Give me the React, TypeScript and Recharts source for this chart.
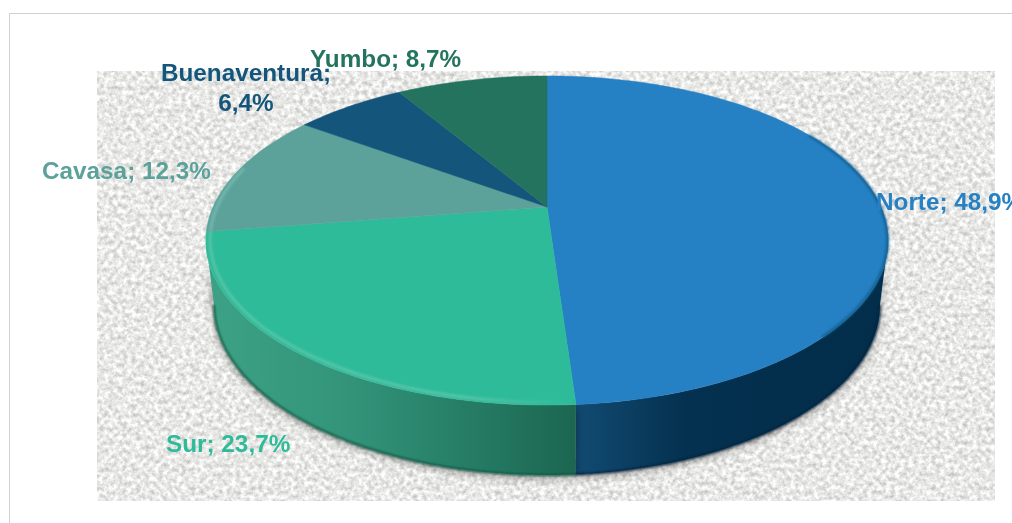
import React from 'react';
import { PieChart, Pie } from 'recharts';

// Share per zone, in percent
const zones = ['Norte', 'Sur', 'Cavasa', 'Buenaventura', 'Yumbo'];
const shares = [48.9, 23.7, 12.3, 6.4, 8.7];
const shareLabels = ['48,9%', '23,7%', '12,3%', '6,4%', '8,7%'];

const topColors = ['#2580C4', '#2EBB99', '#5CA29B', '#14557B', '#24735E'];
const rimColors = ['#17608F', 'url(#rimSur)', '#73B6AE', 'none', 'none'];
const wallGradients = ['wallNorte', 'wallSur', 'none', 'none', 'none'];

const pieData = zones.map((name, i) => ({ name, value: shares[i], label: shareLabels[i] }));

// Where Excel placed each data label
const labelSpots: Record<string, { x: number; y: number; anchor: string }> = {
  Norte: { x: 876, y: 210, anchor: 'start' },
  Sur: { x: 166, y: 452, anchor: 'start' },
  Cavasa: { x: 42, y: 179, anchor: 'start' },
  Buenaventura: { x: 246, y: 81, anchor: 'middle' },
  Yumbo: { x: 310, y: 67, anchor: 'start' },
};

// Perspective of the tilted disc
const TILT = 0.2036;
const SQUASH = 0.4723;
const ELLIPSE_Y = 240.5;
const BASE_Y = 305;
const BASE_SCALE_X = 0.976;
const BASE_SCALE_Y = 1.033;
const FRONT_FROM = 101.75;
const FRONT_TO = 258.25;

// clockwise degrees from 12 o'clock -> screen point
function project(cx: number, cy: number, r: number, deg: number, f = 1) {
  const rad = (deg * Math.PI) / 180;
  const u = Math.sin(rad) * f;
  const v = Math.cos(rad) * f;
  const d = 1 + TILT * v;
  return { x: cx + (r * u) / d, y: cy - (r * SQUASH * v) / d };
}

function toBase(p: { x: number; y: number }, cx: number) {
  return {
    x: cx + (p.x - cx) * BASE_SCALE_X,
    y: BASE_Y + (p.y - ELLIPSE_Y) * BASE_SCALE_Y,
  };
}

function sweep(from: number, to: number) {
  const out: number[] = [];
  const n = Math.max(2, Math.ceil((to - from) / 1.5));
  for (let i = 0; i <= n; i++) out.push(from + ((to - from) * i) / n);
  return out;
}

const toPath = (pts: { x: number; y: number }[]) =>
  pts.map((p, i) => `${i ? 'L' : 'M'}${p.x.toFixed(2)} ${p.y.toFixed(2)}`).join(' ');

function TopSlice(props: any) {
  const { cx, cy, outerRadius, startAngle, endAngle, index } = props;
  const from = 90 - startAngle;
  const to = 90 - endAngle;
  const arc = sweep(from, to).map((a) => project(cx, cy, outerRadius, a));
  // the bevel only shows on the near side, Norte only at its right end
  const rimFrom = Math.max(from, 60);
  const rimTo = Math.min(to, index === 0 ? 135 : 285);
  const rim = rimTo > rimFrom && rimColors[index] !== 'none'
    ? sweep(rimFrom, rimTo).map((a) => project(cx, cy, outerRadius, a, index === 0 ? 0.998 : 0.988))
    : null;
  return (
    <g>
      <path d={`M${cx} ${cy} ${toPath(arc).replace('M', 'L')} Z`} fill={topColors[index]} stroke={topColors[index]} strokeWidth={0.5} />
      {rim && (
        <path d={toPath(rim)} fill="none" stroke={rimColors[index]} strokeWidth={index === 0 ? 2.5 : 3} filter="url(#rimBlur)" />
      )}
    </g>
  );
}

function WallSlice(props: any) {
  const { cx, cy, outerRadius, startAngle, endAngle, index } = props;
  const from = Math.max(90 - startAngle, FRONT_FROM);
  const to = Math.min(90 - endAngle, FRONT_TO);
  if (to <= from) return <g />;
  const top = sweep(from, to).map((a) => project(cx, cy, outerRadius, a));
  const base = top.map((p) => toBase(p, cx));
  const d = `${toPath(top)} ${toPath([...base].reverse()).replace('M', 'L')} Z`;
  return (
    <g>
      <path d={d} fill="#000" opacity={0.4} transform="translate(0 3)" filter="url(#wallShadow)" />
      <path d={d} fill={`url(#${wallGradients[index]})`} />
      <path d={toPath(base)} fill="none" stroke={index === 0 ? '#02233B' : '#0E5843'} strokeWidth={2} filter="url(#rimBlur)" />
    </g>
  );
}

function SliceLabel(props: any) {
  const { name, index } = props;
  const spot = labelSpots[name];
  const common = {
    fill: topColors[index],
    fontFamily: '"Liberation Sans", Arial, sans-serif',
    fontSize: 24.3,
    fontWeight: 700,
    textAnchor: spot.anchor as any,
  };
  if (name === 'Buenaventura') {
    return (
      <text {...common} x={spot.x} y={spot.y}>
        <tspan x={spot.x}>{name};</tspan>
        <tspan x={spot.x} dy={30}>{shareLabels[index]}</tspan>
      </text>
    );
  }
  return (
    <text {...common} x={spot.x} y={spot.y}>
      {name}; {shareLabels[index]}
    </text>
  );
}

export default function App() {
  return (
    <div style={{ position: 'absolute', left: 0, top: 0, width: 1012, height: 523, overflow: 'hidden', background: '#fff' }}>
      <div style={{ filter: 'blur(0.4px)' }}>
        <PieChart width={1012} height={523} margin={{ top: 0, right: 0, bottom: 0, left: 0 }}>
          <defs>
            <filter id="paper" x="0" y="0" width="100%" height="100%" colorInterpolationFilters="sRGB">
              <feTurbulence type="fractalNoise" baseFrequency="0.22" numOctaves={4} seed={7} />
              <feColorMatrix
                type="matrix"
                values="0.42 0 0 0 0.70  0.42 0 0 0 0.70  0.42 0 0 0 0.695  0 0 0 0 1"
              />
              <feGaussianBlur stdDeviation={0.5} />
            </filter>
            <filter id="rimBlur" x="-5%" y="-5%" width="110%" height="110%">
              <feGaussianBlur stdDeviation={1} />
            </filter>
            <filter id="wallShadow" x="-10%" y="-20%" width="120%" height="140%">
              <feGaussianBlur stdDeviation={5} />
            </filter>
            <linearGradient id="rimSur" x1="0" y1="0" x2="1" y2="0">
              <stop offset="0" stopColor="#62C7AC" stopOpacity={0.75} />
              <stop offset="0.7" stopColor="#62C7AC" stopOpacity={0.8} />
              <stop offset="1" stopColor="#62C7AC" stopOpacity={0} />
            </linearGradient>
            <linearGradient id="wallSur" x1="0" y1="0" x2="1" y2="0">
              <stop offset="0" stopColor="#3DA285" />
              <stop offset="0.4" stopColor="#329379" />
              <stop offset="0.7" stopColor="#267D66" />
              <stop offset="1" stopColor="#1C6650" />
            </linearGradient>
            <linearGradient id="wallNorte" x1="0" y1="0" x2="1" y2="0">
              <stop offset="0" stopColor="#124B73" />
              <stop offset="0.35" stopColor="#04314F" />
              <stop offset="1" stopColor="#022D4B" />
            </linearGradient>
          </defs>
          <line x1={9} y1={13.5} x2={1012} y2={13.5} stroke="#D0D0D0" />
          <line x1={9.5} y1={13} x2={9.5} y2={523} stroke="#D0D0D0" />
          <rect x={97} y={71} width={898} height={430} fill="#E8E8E5" filter="url(#paper)" />
          <Pie
            data={pieData}
            dataKey="value"
            nameKey="name"
            cx={547}
            cy={207}
            outerRadius={334}
            startAngle={90}
            endAngle={-270}
            stroke="none"
            shape={WallSlice}
            isAnimationActive={false}
          />
          <Pie
            data={pieData}
            dataKey="value"
            nameKey="name"
            cx={547}
            cy={207}
            outerRadius={334}
            startAngle={90}
            endAngle={-270}
            stroke="none"
            shape={TopSlice}
            label={SliceLabel}
            labelLine={false}
            isAnimationActive={false}
          />
        </PieChart>
      </div>
    </div>
  );
}
